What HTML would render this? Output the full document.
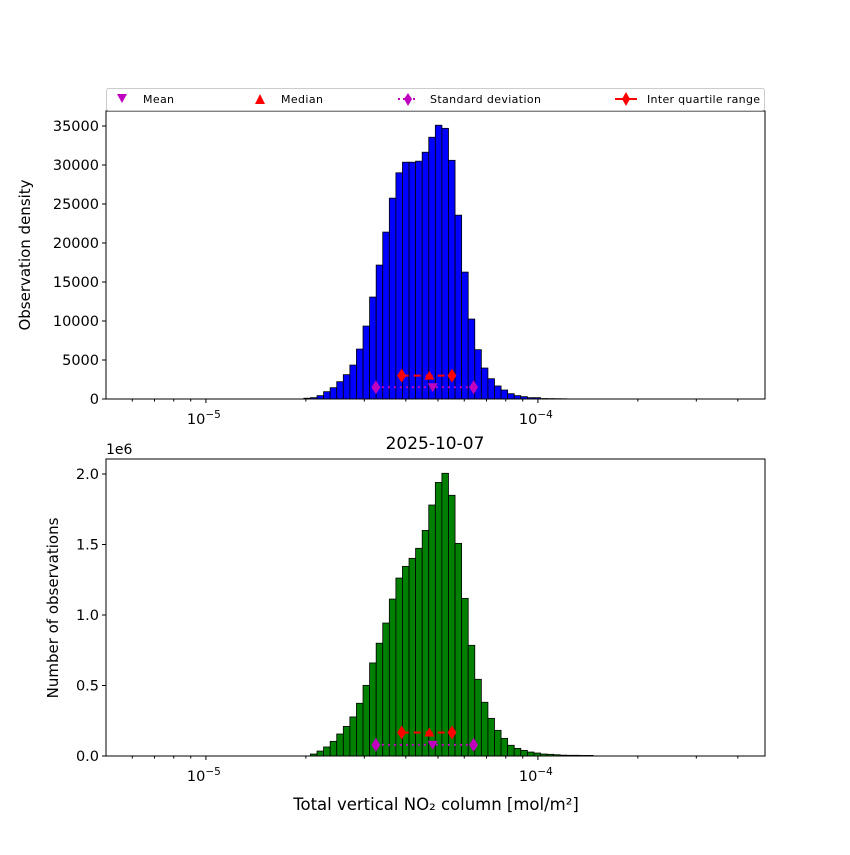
<!DOCTYPE html>
<html><head><meta charset="utf-8"><style>
body{margin:0;background:#fff}
svg{font-family:"DejaVu Sans","Liberation Sans",sans-serif}
</style></head><body>
<svg id="chart" width="850" height="850" viewBox="0 0 850 850" xmlns="http://www.w3.org/2000/svg">
<rect width="850" height="850" fill="#fff"/>
<g id="top"></g>
<g id="bot"></g>
<text x="435" y="449" font-size="17" text-anchor="middle">2025-10-07</text>
<text x="436" y="810" font-size="16.5" text-anchor="middle">Total vertical NO₂ column [mol/m²]</text>
<text x="30" y="255" font-size="15" text-anchor="middle" transform="rotate(-90 30 255)">Observation density</text>
<text x="58" y="608" font-size="15" text-anchor="middle" transform="rotate(-90 58 608)">Number of observations</text>
<text x="106" y="454" font-size="14">1e6</text>
<g>
<rect x="106.5" y="88.5" width="658" height="22" rx="2" fill="#fff" stroke="#ccc"/>
<path d="M117,94 L127,94 L122,103 Z" fill="#bf00bf"/>
<text x="143" y="103" font-size="11" textLength="31">Mean</text>
<path d="M255,104 L265,104 L260,94 Z" fill="red"/>
<text x="281" y="103" font-size="11" textLength="42">Median</text>
<line x1="398" y1="99" x2="418" y2="99" stroke="#bf00bf" stroke-width="2" stroke-dasharray="2,3"/>
<path d="M408,93 L412,99 L408,106 L404,99 Z" fill="#bf00bf"/>
<text x="430" y="103" font-size="11" textLength="111">Standard deviation</text>
<line x1="615" y1="99" x2="637" y2="99" stroke="red" stroke-width="2"/>
<path d="M626,92 L630,99 L626,106 L622,99 Z" fill="red"/>
<text x="647" y="103" font-size="11" textLength="113">Inter quartile range</text>
</g>
</svg>
<script>
const binStartLog = -4.705;
const binWidthLog = 0.0198;
const densityValues = [100,170,430,940,1450,2220,3120,4350,6400,9350,13070,17170,21400,25750,29000,30360,30360,30490,31640,33560,35100,34700,30600,23570,16270,10250,6320,3970,2600,1670,1150,680,430,300,170,170,60,50,40,30];
const countValues = [0,0.014,0.035,0.064,0.104,0.156,0.21,0.277,0.374,0.501,0.66,0.80,0.943,1.113,1.262,1.345,1.402,1.473,1.60,1.78,1.94,2.005,1.849,1.508,1.118,0.785,0.544,0.381,0.267,0.182,0.125,0.076,0.054,0.040,0.028,0.021,0.014,0.012,0.009,0.006,0.005,0.005,0.004,0.004];
const topStats = {mean:4.82e-5, median:4.71e-5, q1:3.886e-5, q3:5.51e-5, s1:3.25e-5, s2:6.40e-5, iqrY:3000, stdY:1500};
const botStats = {mean:4.82e-5, median:4.71e-5, q1:3.886e-5, q3:5.51e-5, s1:3.25e-5, s2:6.40e-5, iqrY:0.167, stdY:0.079};
const topTicks = [0,5000,10000,15000,20000,25000,30000,35000];
const botTicks = [0,0.5,1.0,1.5,2.0];
const botTickLabels = ['0.0','0.5','1.0','1.5','2.0'];

const NS='http://www.w3.org/2000/svg';
const X0=106,X1=765, L0=-5.301, L1=-3.316;
function xLog(l){return X0+(l-L0)/(L1-L0)*(X1-X0);}
function xs(v){return xLog(Math.log10(v));}
function mk(p,tag,at){const e=document.createElementNS(NS,tag);for(const k in at)e.setAttribute(k,at[k]);p.appendChild(e);return e;}

function panel(g,top,bottom,ymax,vals,color,ticks,labels,st,tag){
  const ys=v=>bottom-(v/ymax)*(bottom-top);
  vals.forEach((v,i)=>{
    if(v<=0)return;
    const a=xLog(binStartLog+i*binWidthLog), b=xLog(binStartLog+(i+1)*binWidthLog);
    const r=mk(g,'rect',{x:a,y:ys(v),width:b-a,height:bottom-ys(v),fill:color,stroke:'#000','stroke-width':0.8});
    
    
  });
  const yi=ys(st.iqrY), yd=ys(st.stdY);
  mk(g,'line',{x1:xs(st.s1),y1:yd,x2:xs(st.s2),y2:yd,stroke:'#bf00bf','stroke-width':2,'stroke-dasharray':'2,4'});
  mk(g,'line',{x1:xs(st.q1),y1:yi,x2:xs(st.q3),y2:yi,stroke:'red','stroke-width':2,'stroke-dasharray':'7,5'});
  [[st.s1,yd,'#bf00bf'],[st.s2,yd,'#bf00bf'],[st.q1,yi,'red'],[st.q3,yi,'red']].forEach(([v,y,c])=>{
    const x=xs(v);
    const d=mk(g,'path',{d:`M${x},${y-7} L${x+4.5},${y} L${x},${y+7} L${x-4.5},${y} Z`,fill:c});
    
    
  });
  let x=xs(st.median);
  const md=mk(g,'path',{d:`M${x-5},${yi+4} L${x+5},${yi+4} L${x},${yi-5} Z`,fill:'red'});
  
  
  x=xs(st.mean);
  const mn=mk(g,'path',{d:`M${x-5},${yd-4} L${x+5},${yd-4} L${x},${yd+5} Z`,fill:'#bf00bf'});
  
  
  mk(g,'rect',{x:X0,y:top,width:X1-X0,height:bottom-top,fill:'none',stroke:'#000','stroke-width':1});
  ticks.forEach((t,i)=>{
    const y=ys(t);
    mk(g,'line',{x1:X0-4,y1:y,x2:X0,y2:y,stroke:'#000'});
    const tx=mk(g,'text',{x:X0-7,y:y+5,'font-size':14.5,'text-anchor':'end'});
    tx.textContent=labels[i];
    
    
  });
  for(let e=-6;e<=-3;e++){
    for(let m=1;m<10;m++){
      const l=e+Math.log10(m);
      if(l<L0||l>L1)continue;
      const xx=xLog(l);
      mk(g,'line',{x1:xx,y1:bottom,x2:xx,y2:bottom+(m===1?4:2.5),stroke:'#000'});
      if(m===1){
        const tx=mk(g,'text',{x:xx-19,y:bottom+25,'font-size':14.5});
        
        
        const a=document.createElementNS(NS,'tspan');a.textContent='10';tx.appendChild(a);
        const b=document.createElementNS(NS,'tspan');b.textContent='−'+(-e);
        b.setAttribute('font-size','10.5');b.setAttribute('dy','-6');tx.appendChild(b);
      }
    }
  }
}
panel(document.getElementById('top'),111,399,35000*(399-111)/(399-126),densityValues,'#0000ff',topTicks,topTicks.map(String),topStats,'top');
panel(document.getElementById('bot'),459,756,2.0*(756-459)/(756-474),countValues,'#008000',botTicks,botTickLabels,botStats,'bottom');
</script>
</body></html>
